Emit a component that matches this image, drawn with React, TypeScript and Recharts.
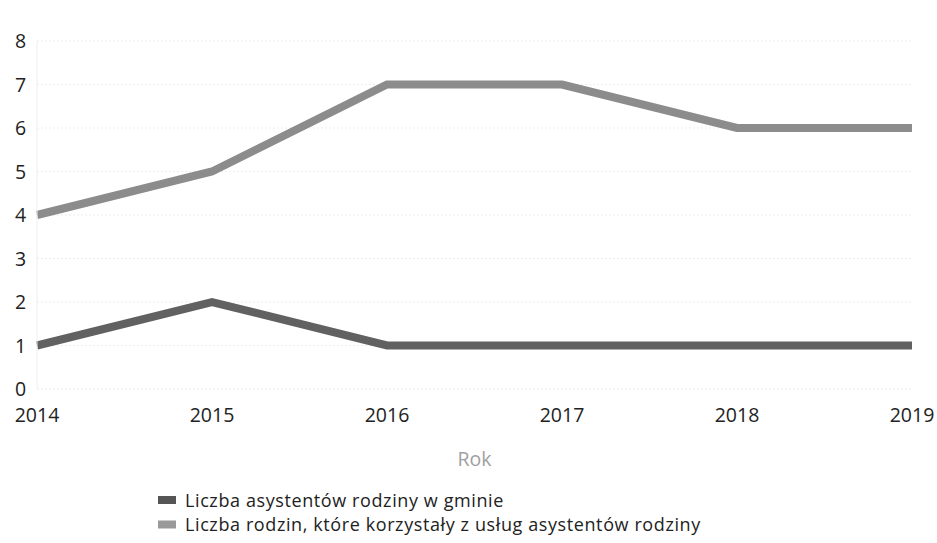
import React from 'react';
import { LineChart, Line, XAxis, YAxis, CartesianGrid, Legend, Label } from 'recharts';

const years = ['2014', '2015', '2016', '2017', '2018', '2019'];
const asystenci = [1, 2, 1, 1, 1, 1];
const rodziny = [4, 5, 7, 7, 6, 6];
const yTicks = [0, 1, 2, 3, 4, 5, 6, 7, 8];
const seriesNames = [
  'Liczba asystentów rodziny w gminie',
  'Liczba rodzin, które korzystały z usług asystentów rodziny',
];

const data = years.map((y, i) => ({ year: y, a: asystenci[i], r: rodziny[i] }));

const FONT = '"Open Sans", "Noto Sans", sans-serif';

const YTick = (props: any) => {
  const { y, payload } = props;
  return (
    <text x={15} y={y} dy="0.36em" textAnchor="start" fill="#222" fontSize={19.5} fontFamily={FONT}>
      {payload.value}
    </text>
  );
};

const XTick = (props: any) => {
  const { x, y, payload } = props;
  return (
    <text x={x} y={y} dy={33} textAnchor="middle" fill="#222" fontSize={19.5} fontFamily={FONT}>
      {payload.value}
    </text>
  );
};

const LegendContent = () => {
  const colors = ['#555555', '#999999'];
  return (
    <svg width={600} height={52} style={{ display: 'block', overflow: 'visible' }}>
      {seriesNames.map((n, i) => (
        <g key={n}>
          <rect x={0} y={i * 24.5 + 6} width={18} height={8} fill={colors[i]} />
          <text x={27} y={i * 24.5 + 16.5} fontFamily={FONT} fontSize={18} letterSpacing={0.6} fill="#222">
            {n}
          </text>
        </g>
      ))}
    </svg>
  );
};

export default function App() {
  return (
    <div style={{ position: 'absolute', left: 0, top: 0, background: '#fff' }}>
      <LineChart width={937} height={543} data={data} margin={{ top: 41, right: 25, left: 0, bottom: 54 }}>
        <CartesianGrid vertical={false} stroke="#ececec" strokeDasharray="2 2" />
        <XAxis
          dataKey="year"
          tick={<XTick />}
          tickLine={false}
          axisLine={false}
          tickSize={0}
          tickMargin={0}
          height={100}
          interval={0}
        >
          <Label
            value="Rok"
            position="insideTop"
            offset={63}
            fill="#a0a0a0"
            fontSize={19.5}
            fontFamily={FONT}
          />
        </XAxis>
        <YAxis
          domain={[0, 8]}
          ticks={yTicks}
          tick={<YTick />}
          tickLine={false}
          axisLine={{ stroke: '#eeeeee' }}
          width={37}
          interval={0}
        />
        <Legend
          layout="horizontal"
          verticalAlign="middle"
          align="center"
          content={<LegendContent />}
          wrapperStyle={{ left: 158, top: 490, width: 'auto' }}
        />
        <Line
          dataKey="a"
          name={seriesNames[0]}
          stroke="#616161"
          strokeWidth={8}
          dot={false}
          isAnimationActive={false}
          strokeLinecap="butt"
        />
        <Line
          dataKey="r"
          name={seriesNames[1]}
          stroke="#8c8c8c"
          strokeWidth={8}
          dot={false}
          isAnimationActive={false}
          strokeLinecap="butt"
        />
      </LineChart>
    </div>
  );
}
